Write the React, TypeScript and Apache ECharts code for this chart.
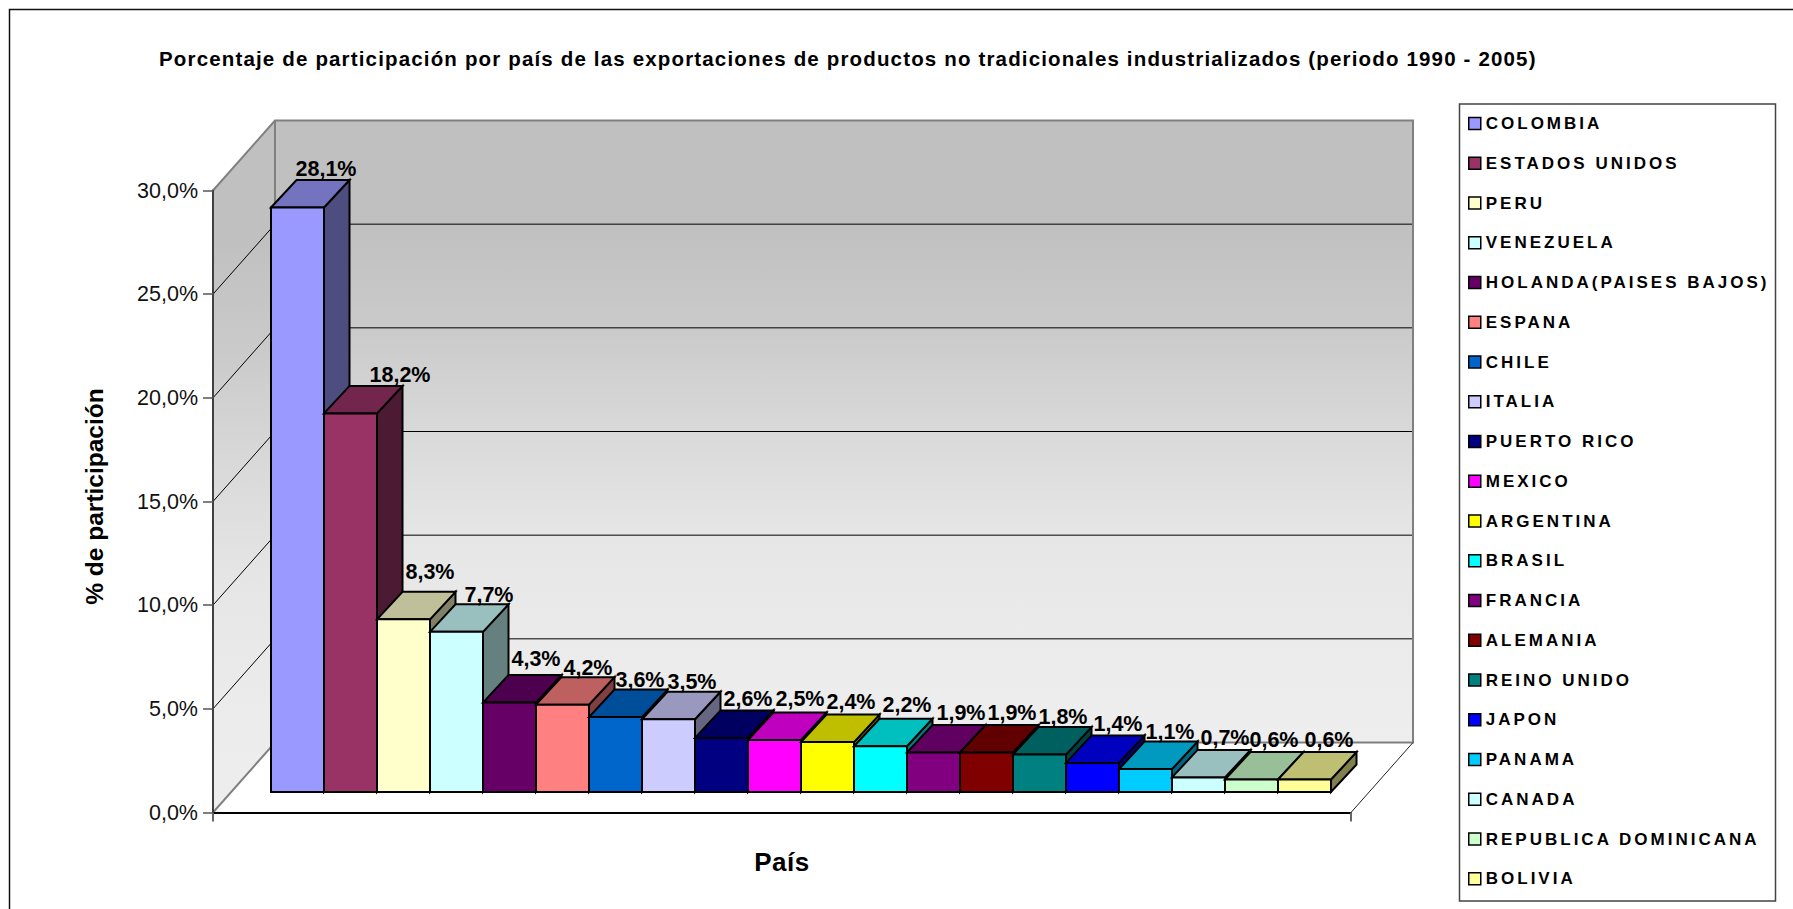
import React, { useEffect, useRef } from "react";
import * as echarts from "echarts";

const countries = ["COLOMBIA","ESTADOS UNIDOS","PERU","VENEZUELA","HOLANDA(PAISES BAJOS)","ESPANA","CHILE","ITALIA","PUERTO RICO","MEXICO","ARGENTINA","BRASIL","FRANCIA","ALEMANIA","REINO UNIDO","JAPON","PANAMA","CANADA","REPUBLICA DOMINICANA","BOLIVIA"];
const shares = [28.1,18.2,8.3,7.7,4.3,4.2,3.6,3.5,2.6,2.5,2.4,2.2,1.9,1.9,1.8,1.4,1.1,0.7,0.6,0.6];
const barColors = ["#9999FF","#993366","#FFFFCC","#CCFFFF","#660066","#FF8080","#0066CC","#CCCCFF","#000080","#FF00FF","#FFFF00","#00FFFF","#800080","#800000","#008080","#0000FF","#00CCFF","#CCFFFF","#CCFFCC","#FFFF99"];
const wallTicks = [0,5,10,15,20,25,30];
const chartTitle = "Porcentaje de participación por país de las exportaciones de productos no tradicionales industrializados (periodo 1990 - 2005)";
const yName = "% de participación";
const xName = "País";

// Small per-label nudges: the source placed each data label slightly differently.
const labelNudgeX = [2,23,0,6,0,-1,-2,-3,0,-1,-3,0,1,-1,-3,-1,-2,0,-4,-2];
const labelNudgeY = [-1,0,-9,1,-6,1,1,1,-1,-3,-2,-3,-1,-1,0,-1,1,-1,-2,-2];

const FONT = '"Liberation Sans", Arial, sans-serif';
const WALL_DX = 62, WALL_DY = -70;
const BAR_DX = 25.5, BAR_DY = -27.5;
const pct = (v: number) => v.toFixed(1).replace(".", ",") + "%";

function shade(hex: string, f: number) {
  const n = parseInt(hex.slice(1), 16);
  const c = [(n >> 16) & 255, (n >> 8) & 255, n & 255].map((v) => Math.round(v * f));
  return `rgb(${c[0]},${c[1]},${c[2]})`;
}

const wallFill = {
  type: "linear", x: 0, y: 0, x2: 0, y2: 1,
  colorStops: [
    { offset: 0, color: "#c0c0c0" }, { offset: 0.17, color: "#c0c0c0" },
    { offset: 0.33, color: "#cacaca" }, { offset: 0.5, color: "#d9d9d9" },
    { offset: 0.67, color: "#e6e6e6" }, { offset: 0.83, color: "#ebebeb" },
    { offset: 1, color: "#eeeeee" },
  ],
};

function renderWalls(_p: any, api: any) {
  const L = (v: number) => api.coord([0, v]);
  const R = (v: number) => api.coord([1, v]);
  const off = (p: number[]) => [p[0] + WALL_DX, p[1] + WALL_DY];
  const grey = { stroke: "#808080", lineWidth: 2, fill: "none" };
  const children: any[] = [
    { type: "polygon", shape: { points: [off(L(30)), off(R(30)), off(R(0)), off(L(0))] }, style: { fill: wallFill } },
    { type: "polygon", shape: { points: [L(30), off(L(30)), off(L(0)), L(0)] }, style: { fill: wallFill } },
  ];
  wallTicks.slice(1, -1).forEach((t) => {
    children.push({ type: "polyline", shape: { points: [L(t), off(L(t)), off(R(t))] }, style: { stroke: "#000", lineWidth: 1, fill: "none" } });
  });
  children.push(
    { type: "polyline", shape: { points: [L(30), off(L(30)), off(R(30)), off(R(0)), off(L(0)), L(0)] }, style: grey },
    { type: "line", shape: { x1: off(L(30))[0], y1: off(L(30))[1], x2: off(L(0))[0], y2: off(L(0))[1] }, style: { stroke: "#808080", lineWidth: 2 } },
    { type: "line", shape: { x1: R(0)[0], y1: R(0)[1], x2: off(R(0))[0], y2: off(R(0))[1] }, style: { stroke: "#222", lineWidth: 1 } },
  );
  return { type: "group", children };
}

function renderBar(color: string) {
  return (_p: any, api: any) => {
    const [cx, yTop] = api.coord([api.value(0), api.value(1)]);
    const [, y0] = api.coord([api.value(0), 0]);
    const w = api.size([1, 0])[0];
    const x0 = cx - w / 2, x1 = cx + w / 2;
    const line = { stroke: "#000", lineWidth: 2, lineJoin: "miter" };
    return {
      type: "group",
      children: [
        { type: "polygon", shape: { points: [[x1, yTop], [x1 + BAR_DX, yTop + BAR_DY], [x1 + BAR_DX, y0 + BAR_DY], [x1, y0]] }, style: { fill: shade(color, 0.5), ...line } },
        { type: "polygon", shape: { points: [[x0, yTop], [x0 + BAR_DX, yTop + BAR_DY], [x1 + BAR_DX, yTop + BAR_DY], [x1, yTop]] }, style: { fill: shade(color, 0.75), ...line } },
        { type: "polygon", shape: { points: [[x0, yTop], [x1, yTop], [x1, y0], [x0, y0]] }, style: { fill: color, ...line } },
      ],
    };
  };
}

function renderLabel(p: any, api: any) {
  const [cx, yTop] = api.coord([api.value(0), api.value(1)]);
  const i = p.dataIndex;
  return {
    type: "text",
    style: {
      text: pct(api.value(1)), x: cx + BAR_DX + 1 + labelNudgeX[i], y: yTop + BAR_DY - 10.5 + labelNudgeY[i],
      textAlign: "center", textVerticalAlign: "middle",
      fontSize: 21.5, fontWeight: "bold", fontFamily: FONT, fill: "#000",
    },
  };
}

function spacingFor(t: string) {
  if (t === chartTitle) return 1.16;
  if (countries.includes(t)) return 3;
  if (t === xName) return 0.5;
  return 0;
}

export default function App() {
  const ref = useRef<HTMLDivElement>(null);
  useEffect(() => {
    document.body.style.margin = "0";
    const chart = echarts.init(ref.current!, undefined, { renderer: "svg" });
    chart.setOption({
      animation: false,
      backgroundColor: "#fff",
      textStyle: { fontFamily: FONT },
      title: {
        text: chartTitle, left: 154, top: 43,
        textStyle: { fontSize: 20.5, fontWeight: "bold", color: "#000", fontFamily: FONT },
      },
      legend: {
        data: countries, orient: "vertical", left: 1468, top: 115, padding: 0,
        itemWidth: 12, itemHeight: 12, itemGap: 22.75, icon: "rect", selectedMode: false,
        itemStyle: { borderColor: "#000", borderWidth: 1.5 },
        textStyle: { fontSize: 17, lineHeight: 16, fontWeight: "bold", color: "#000", fontFamily: FONT },
      },
      grid: [
        { left: 213, top: 190.5, width: 1138, height: 622 },
        { left: 271, top: 168, width: 1060, height: 624 },
      ],
      xAxis: [
        {
          type: "value", gridIndex: 0, min: 0, max: 1, interval: 1, z: 3,
          name: xName, nameLocation: "middle", nameGap: 36,
          nameTextStyle: { fontSize: 26, fontWeight: "bold", color: "#000", fontFamily: FONT },
          axisLine: { show: true, lineStyle: { color: "#000", width: 2 } },
          axisTick: { show: true, length: 9, lineStyle: { color: "#666", width: 2 } },
          axisLabel: { show: false }, splitLine: { show: false },
        },
        { type: "category", gridIndex: 1, data: countries, show: false },
      ],
      yAxis: [
        {
          type: "value", gridIndex: 0, min: 0, max: 30, interval: 5, z: 3,
          name: yName, nameLocation: "middle", nameGap: 106,
          nameTextStyle: { fontSize: 24.5, fontWeight: "bold", color: "#000", fontFamily: FONT, padding: [0, 0, 0, 10] },
          axisLine: { show: true, lineStyle: { color: "#404040", width: 2 } },
          axisTick: { show: true, length: 10, lineStyle: { color: "#555", width: 1.5 } },
          axisLabel: { formatter: (v: number) => pct(v), fontSize: 21.5, color: "#111", margin: 15, fontFamily: FONT },
          splitLine: { show: false },
        },
        { type: "value", gridIndex: 1, min: 0, max: 30, interval: 5, show: false },
      ],
      graphic: {
        elements: [
          { type: "rect", silent: true, shape: { x: 9.5, y: 9.5, width: 1900, height: 1000 }, style: { fill: "none", stroke: "#111", lineWidth: 1.5 } },
          { type: "rect", silent: true, shape: { x: 1459.5, y: 104, width: 316, height: 797 }, style: { fill: "none", stroke: "#444", lineWidth: 1.5 } },
        ],
      },
      series: [
        { type: "custom", name: "walls", xAxisIndex: 0, yAxisIndex: 0, z: 1, silent: true, data: [[0, 0]], renderItem: renderWalls },
        ...countries.map((c, i) => ({
          type: "custom", name: c, xAxisIndex: 1, yAxisIndex: 1, z: 2, silent: true,
          itemStyle: { color: barColors[i] },
          data: [[c, shares[i]]], renderItem: renderBar(barColors[i]),
        })),
        {
          type: "custom", name: "labels", xAxisIndex: 1, yAxisIndex: 1, z: 5, silent: true,
          data: countries.map((c, i) => [c, shares[i]]), renderItem: renderLabel,
        },
      ],
    });
    ref.current!.querySelectorAll("text").forEach((t) => {
      const s = spacingFor(t.textContent || "");
      if (s) (t as any).style.letterSpacing = s + "px";
    });
    return () => chart.dispose();
  }, []);
  return <div ref={ref} style={{ position: "absolute", left: 0, top: 0, width: 1793, height: 909 }} />;
}
